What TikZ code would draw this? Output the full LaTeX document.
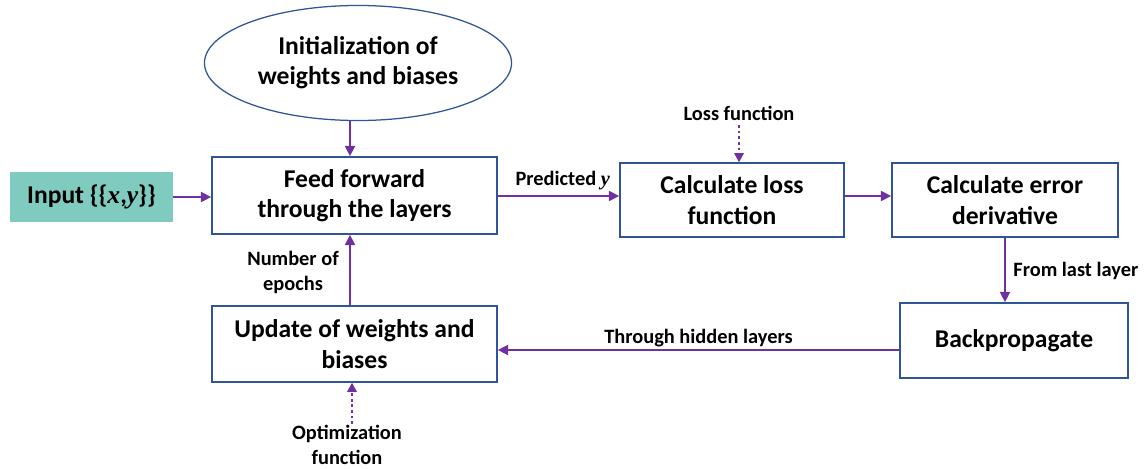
\documentclass[tikz,border=0pt]{standalone}
\usepackage{fontspec}
\setmainfont{Carlito}
\newfontfamily\mvar{Liberation Serif}
\newcommand{\mv}[1]{{\mvar\itshape #1}}
\usetikzlibrary{shapes.geometric,arrows.meta}
\definecolor{boxblue}{RGB}{47,85,151}
\definecolor{arrowpurple}{RGB}{112,48,160}
\definecolor{tealfill}{RGB}{127,203,192}
\tikzset{
  stepbox/.style={draw=boxblue, line width=0.9pt, rectangle, align=center, font=\fontsize{18.2}{21.5}\selectfont\bfseries, inner sep=0pt},
  lbl/.style={align=center, font=\fontsize{14.5}{17.8}\selectfont\bfseries, inner sep=0pt},
  flow/.style={draw=arrowpurple, line width=2pt, -{Triangle[length=7.5pt,width=7pt]}},
  dflow/.style={draw=arrowpurple, line width=2pt, dash pattern=on 2pt off 2pt, -{Triangle[length=6.5pt,width=6.5pt]}},
}
\begin{document}
\begin{tikzpicture}[x=0.025cm,y=-0.025cm]
\useasboundingbox (0,0) rectangle (1144,468);
\node[draw=boxblue, line width=0.9pt, ellipse, minimum width=7.675cm, minimum height=2.875cm, align=center, font=\fontsize{18.2}{21.5}\selectfont\bfseries, inner sep=0pt] (init) at (358,63) {Initialization of\\weights and biases};
\node[stepbox, minimum width=7.125cm, minimum height=1.925cm] (feed) at (354.5,195.5) {Feed forward\\through the layers};
\node[rectangle, fill=tealfill, minimum width=4.075cm, minimum height=1.25cm, font=\fontsize{18.2}{21.5}\selectfont\bfseries, inner sep=0pt] (input) at (91.5,197) {Input \{\{\mv{x},\mv{y}\}\}};
\node[stepbox, minimum width=5.6cm, minimum height=1.85cm] (loss) at (732,200) {Calculate loss\\function};
\node[stepbox, minimum width=5.65cm, minimum height=1.85cm] (err) at (1005,200) {Calculate error\\derivative};
\node[stepbox, minimum width=5.7cm, minimum height=1.875cm] (back) at (1014,340.5) {Backpropagate};
\node[stepbox, minimum width=7.125cm, minimum height=1.9cm] (upd) at (354.5,344) {Update of weights and\\biases};
\node[lbl] (lossfn) at (739,113) {Loss function};
\node[lbl] (optfn) at (347,445) {Optimization\\function};
\coordinate (lossfnend) at (739,125);
\coordinate (optfnend) at (352,424);

\draw[flow] (init.south -| 350,0) -- (feed.north -| 350,0);
\draw[flow] (input.east) -- (input.east -| feed.west);
\draw[flow] (feed.east |- 0,196) -- node[lbl, above=3pt, xshift=3pt] {Predicted \mv{y}} (loss.west |- 0,196);
\draw[flow] (loss.east |- 0,196) -- (err.west |- 0,196);
\draw[flow] (err.south) -- node[lbl, right=5pt, yshift=-1pt] {From last layer} (back.north -| err.south);
\draw[flow] (back.west |- 0,350) -- node[lbl, above=1.5pt] {Through hidden layers} (upd.east |- 0,350);
\draw[flow] (upd.north -| 350,0) -- node[lbl, left=7pt, yshift=-2pt] {Number of\\epochs} (feed.south -| 350,0);
\draw[dflow] (lossfnend) -- (loss.north -| lossfnend);
\draw[dflow] (optfnend) -- (upd.south -| optfnend);
\end{tikzpicture}
\end{document}
